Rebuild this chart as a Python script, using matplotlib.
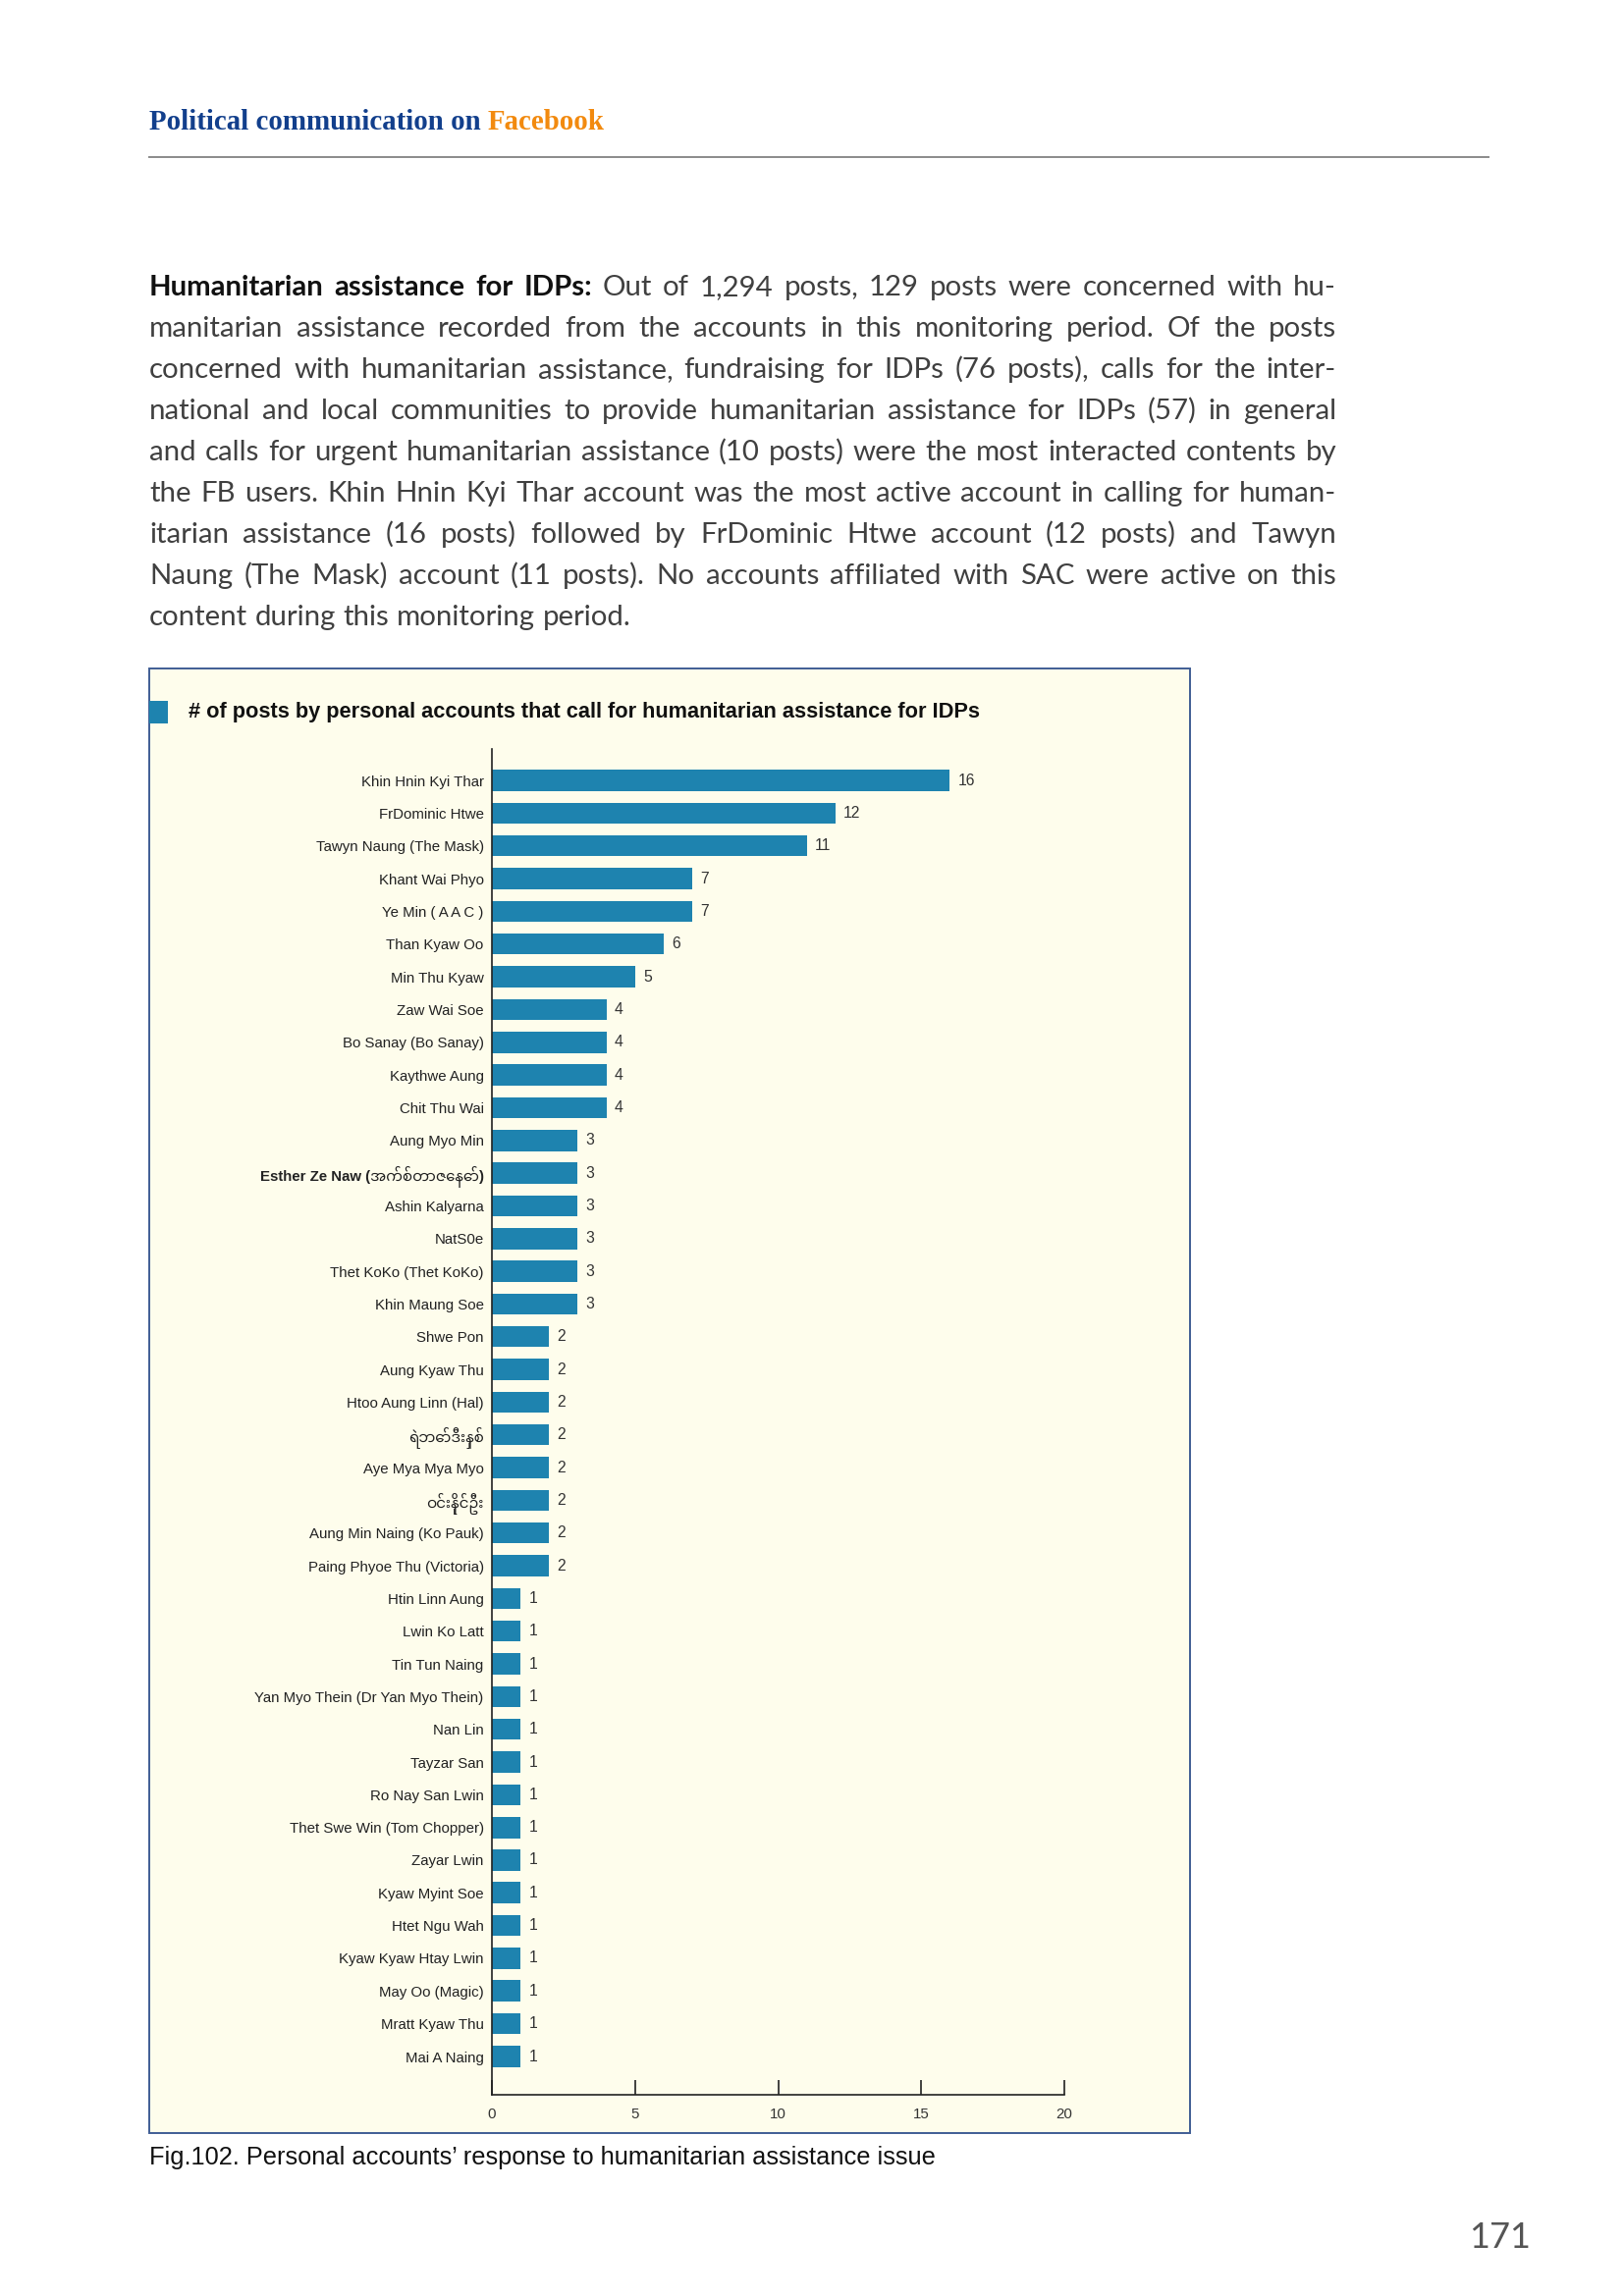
import numpy as np
import matplotlib.pyplot as plt
from matplotlib import font_manager
from matplotlib.patches import Rectangle
from matplotlib.lines import Line2D

W_PX, H_PX, DPI = 1654, 2339, 200

# chart data, top bar first
NAMES = [
    "Khin Hnin Kyi Thar", "FrDominic Htwe", "Tawyn Naung (The Mask)",
    "Khant Wai Phyo", "Ye Min ( A A C )", "Than Kyaw Oo", "Min Thu Kyaw",
    "Zaw Wai Soe", "Bo Sanay (Bo Sanay)", "Kaythwe Aung", "Chit Thu Wai",
    "Aung Myo Min", "Esther Ze Naw (အက်စ်တာဇေနော်)", "Ashin Kalyarna",
    "NatS0e", "Thet KoKo (Thet KoKo)", "Khin Maung Soe", "Shwe Pon",
    "Aung Kyaw Thu", "Htoo Aung Linn (Hal)", "ရဲဘော်ဒီးနှစ်",
    "Aye Mya Mya Myo", "ဝင်းနိုင်ဦး", "Aung Min Naing (Ko Pauk)",
    "Paing Phyoe Thu (Victoria)", "Htin Linn Aung", "Lwin Ko Latt",
    "Tin Tun Naing", "Yan Myo Thein (Dr Yan Myo Thein)", "Nan Lin",
    "Tayzar San", "Ro Nay San Lwin", "Thet Swe Win (Tom Chopper)",
    "Zayar Lwin", "Kyaw Myint Soe", "Htet Ngu Wah", "Kyaw Kyaw Htay Lwin",
    "May Oo (Magic)", "Mratt Kyaw Thu", "Mai A Naing",
]
POSTS = [16, 12, 11, 7, 7, 6, 5, 4, 4, 4, 4, 3, 3, 3, 3, 3, 3,
         2, 2, 2, 2, 2, 2, 2, 2,
         1, 1, 1, 1, 1, 1, 1, 1, 1, 1, 1, 1, 1, 1, 1]
BOLD_LABELS = [12, 20, 22]
X_TICKS = [0, 5, 10, 15, 20]

CHART_TITLE = "# of posts by personal accounts that call for humanitarian assistance for IDPs"
CAPTION = "Fig.102. Personal accounts\u2019 response to humanitarian assistance issue"
PAGE_NO = "171"

PARA_LINES = [
    "Humanitarian assistance for IDPs: Out of 1,294 posts, 129 posts were concerned with hu-",
    "manitarian assistance recorded from the accounts in this monitoring period. Of the posts",
    "concerned with humanitarian assistance, fundraising for IDPs (76 posts), calls for the inter-",
    "national and local communities to provide humanitarian assistance for IDPs (57) in general",
    "and calls for urgent humanitarian assistance (10 posts) were the most interacted contents by",
    "the FB users. Khin Hnin Kyi Thar account was the most active account in calling for human-",
    "itarian assistance (16 posts) followed by FrDominic Htwe account (12 posts) and Tawyn",
    "Naung (The Mask) account (11 posts). No accounts affiliated with SAC were active on this",
    "content during this monitoring period.",
]
BOLD_WORDS = 4

HEADER_BLUE = "#123F8C"
HEADER_ORANGE = "#F28A0F"
BAR = "#1E83AF"
BOX_BG = "#FEFDEC"
BOX_EDGE = "#3F5D94"
TEXT = "#404040"

installed = {f.name for f in font_manager.fontManager.ttflist}


def fam(*names):
    out = [n for n in names if n in installed]
    return out + ["DejaVu Sans"]


NARROW = fam("Liberation Sans Narrow", "Liberation Sans", "Noto Sans Myanmar", "Padauk")
BODY = fam("Lato", "Open Sans")
SERIF = fam("Liberation Serif", "DejaVu Serif")

fig = plt.figure(figsize=(W_PX / DPI, H_PX / DPI), dpi=DPI)
fig.patch.set_facecolor("white")
renderer = fig.canvas.get_renderer()


def fx(px):
    return px / W_PX


def fy(py):
    return 1 - py / H_PX


def width_of(t):
    return t.get_window_extent(renderer).width


def fit(t, target):
    t.set_fontsize(t.get_fontsize() * target / width_of(t))


# header
h1 = fig.text(fx(152), fy(132), "Political communication on ", family=SERIF,
              weight="bold", fontsize=10, color=HEADER_BLUE, va="baseline")
h2 = fig.text(0, fy(132), "Facebook", family=SERIF, weight="bold",
              fontsize=10, color=HEADER_ORANGE, va="baseline")
both = fig.text(0, 0, "Political communication on Facebook", family=SERIF,
                weight="bold", fontsize=10)
scale = 463 / width_of(both)
both.remove()
for t in (h1, h2):
    t.set_fontsize(10 * scale)
h2.set_x(fx(152 + width_of(h1)))
fig.add_artist(Line2D([fx(152), fx(1516)], [fy(160), fy(160)],
                      color="#8a8a8a", lw=0.7))

# paragraph, justified word by word
LEFT, RIGHT = 152, 1361
line_words = []
for i, line in enumerate(PARA_LINES):
    words = []
    for j, w in enumerate(line.split()):
        bold = i == 0 and j < BOLD_WORDS
        t = fig.text(0, 0, w, family=BODY, fontsize=10, color="#111111" if bold else TEXT,
                     weight="bold" if bold else "normal", va="baseline")
        words.append(t)
    line_words.append(words)

sp = fig.text(0, 0, "a a", family=BODY, fontsize=10)
sp2 = fig.text(0, 0, "aa", family=BODY, fontsize=10)
space = width_of(sp) - width_of(sp2)
sp.remove()
sp2.remove()

natural = max(sum(width_of(t) for t in ws) + space * (len(ws) - 1) for ws in line_words)
scale = (RIGHT - LEFT) * 0.985 / natural
space *= scale
for ws in line_words:
    for t in ws:
        t.set_fontsize(10 * scale)

for i, ws in enumerate(line_words):
    widths = [width_of(t) for t in ws]
    if i < len(line_words) - 1:
        gap = (RIGHT - LEFT - sum(widths)) / (len(ws) - 1)
    else:
        gap = space
    x = LEFT
    for t, w in zip(ws, widths):
        t.set_position((fx(x), fy(301 + 42 * i)))
        x += w + gap

# chart box
fig.add_artist(Rectangle((fx(152), fy(2173)), fx(1212) - fx(152), (2173 - 681) / H_PX,
                         facecolor=BOX_BG, edgecolor=BOX_EDGE, lw=0.7, zorder=0))
fig.add_artist(Rectangle((fx(152), fy(737)), fx(171) - fx(152), (737 - 714) / H_PX,
                         facecolor=BAR, edgecolor="none", zorder=1))
title = fig.text(fx(192), fy(726), CHART_TITLE, family=NARROW, fontsize=10,
                 color="#111111", va="center", weight="bold")
fit(title, 804)

ax = fig.add_axes([fx(501), fy(2134), fx(1084) - fx(501), (2134 - 763) / H_PX])
ax.set_facecolor("none")
y = np.arange(len(NAMES))
bars = ax.barh(y, POSTS, height=0.65, color=BAR)
ax.set_xlim(0, 20)
ax.set_ylim(len(NAMES) - 1 + 1.17, -0.96)

probe = fig.text(0, 0, NAMES[0], family=NARROW, fontsize=10)
label_size = 10 * 125 / width_of(probe)
probe.remove()

ax.set_yticks(y, NAMES, family=NARROW, fontsize=label_size, color="#222222")
for idx in BOLD_LABELS:
    ax.get_yticklabels()[idx].set_fontweight("bold")
ax.set_xticks(X_TICKS)
ax.set_xticklabels([str(v) for v in X_TICKS], family=NARROW, fontsize=label_size,
                   color="#333333")
ax.tick_params(axis="y", length=0, pad=3)
ax.tick_params(axis="x", direction="in", length=5.5, width=0.6, pad=4.5, color="#222222")

for side in ("top", "right"):
    ax.spines[side].set_visible(False)
for side in ("left", "bottom"):
    ax.spines[side].set_color("#222222")
    ax.spines[side].set_linewidth(0.6)

ax.bar_label(bars, padding=3, family=NARROW, fontsize=label_size * 1.05, color="#333333")

# caption and page number
cap = fig.text(fx(152), fy(2198), CAPTION, family=NARROW, fontsize=10,
               color="#111111", va="center")
fit(cap, 798)
fig.text(fx(1528), fy(2280), PAGE_NO, family=BODY, fontsize=13,
         color="#555555", ha="center", va="center")

fig.savefig("out.png", dpi=DPI, facecolor="white")
